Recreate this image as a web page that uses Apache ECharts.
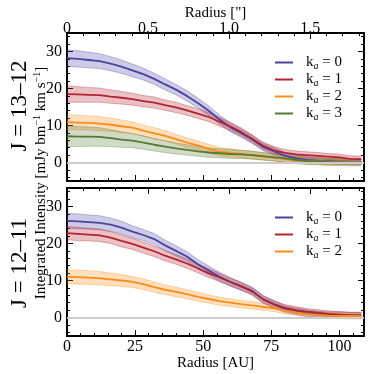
<!DOCTYPE html>
<html>
<head>
<meta charset="utf-8">
<script src="https://cdn.jsdelivr.net/npm/echarts@6/dist/echarts.min.js"></script>
<style>
html,body{margin:0;padding:0;background:#fff;}
#chart{width:374px;height:374px;}
</style>
</head>
<body>
<div id="chart"></div>
<script>

// radial profiles, values

const radius = [0,4,8,12,16,20,24,28,32,36,40,44,48,52,56,60,64,68,72,76,80,84,88,92,96,100,104,108];

// J = 13-12
const j13k0 = [28.2,28.0,27.7,27.4,26.7,25.9,24.9,23.9,22.6,21.1,19.7,18.0,16.1,14.0,11.6,9.5,7.9,6.2,4.2,3.0,1.8,1.1,0.7,0.5,0.4,0.3,0.2,0.2];
const j13k1 = [18.5,18.4,18.3,18.2,17.8,17.5,17.1,16.6,16.2,15.5,14.9,14.1,13.2,12.3,11.0,9.7,8.2,6.4,4.5,3.3,2.6,2.2,2.0,1.8,1.6,1.4,1.0,0.9];
const j13k2 = [10.9,10.8,10.7,10.5,10.2,9.8,9.4,8.6,7.9,7.2,6.3,5.4,4.6,3.7,2.9,2.6,2.3,2.0,1.6,1.3,0.9,0.6,0.4,0.3,0.2,0.2,0.1,0.1];
const j13k3 = [7.1,7.0,7.0,6.9,6.6,6.2,5.9,5.4,4.8,4.3,3.8,3.4,3.0,2.7,2.5,2.3,2.2,2.0,1.7,1.4,1.1,0.7,0.4,0.3,0.1,0.1,0.0,0.0];

const j13e0 = [2.2,2.2,2.1,2.0,1.9,1.8,1.7,1.6,1.5,1.5,1.4,1.4,1.3,1.3,1.2,1.2,1.1,1.1,1.0,1.0,0.9,0.9,0.9,0.8,0.8,0.8,0.8,0.8];
const j13e1 = [2.2,2.1,2.0,1.9,1.8,1.7,1.6,1.5,1.5,1.4,1.4,1.3,1.3,1.2,1.2,1.1,1.1,1.0,1.0,1.0,0.9,0.9,0.9,0.9,0.8,0.8,0.8,0.8];
const j13e2 = [2.0,2.0,1.9,1.9,1.8,1.7,1.6,1.5,1.5,1.4,1.3,1.3,1.2,1.2,1.1,1.1,1.0,1.0,1.0,0.9,0.9,0.9,0.9,0.8,0.8,0.8,0.8,0.8];
const j13e3 = [2.7,2.7,2.6,2.5,2.3,2.1,1.9,1.8,1.7,1.6,1.5,1.4,1.3,1.3,1.2,1.2,1.1,1.1,1.0,1.0,1.0,0.9,0.9,0.9,0.9,0.9,0.9,0.9];

// J = 12-11
const j12k0 = [26.1,26.0,25.8,25.6,25.1,24.3,23.2,22.3,21.2,19.5,18.0,16.5,14.4,12.7,11.0,9.6,8.4,7.2,4.9,3.5,2.3,1.7,1.2,0.9,0.7,0.7,0.6,0.6];
const j12k1 = [22.8,22.6,22.4,22.2,21.6,20.7,19.9,18.9,17.9,16.7,15.7,14.6,13.3,12.0,10.8,9.6,8.4,7.0,4.9,3.6,2.6,2.0,1.6,1.3,1.0,0.8,0.6,0.6];
const j12k2 = [11.0,10.9,10.8,10.6,10.3,10.0,9.6,9.0,8.2,7.5,6.9,6.3,5.6,5.0,4.4,4.0,3.6,3.3,2.9,2.5,1.9,1.4,1.0,0.7,0.5,0.45,0.4,0.4];

const j12e0 = [2.0,2.0,1.9,1.9,1.8,1.7,1.6,1.5,1.5,1.4,1.4,1.3,1.3,1.2,1.2,1.1,1.1,1.0,1.0,1.0,0.9,0.9,0.9,0.8,0.8,0.8,0.8,0.8];
const j12e1 = [1.8,1.8,1.7,1.7,1.6,1.6,1.5,1.5,1.4,1.4,1.3,1.3,1.2,1.2,1.1,1.1,1.0,1.0,1.0,0.9,0.9,0.9,0.8,0.8,0.8,0.8,0.8,0.8];
const j12e2 = [1.9,1.9,1.8,1.8,1.7,1.6,1.5,1.4,1.4,1.3,1.3,1.2,1.2,1.1,1.1,1.0,1.0,1.0,0.9,0.9,0.9,0.8,0.8,0.8,0.8,0.8,0.8,0.8];

const seriesNames = ["k_a = 0","k_a = 1","k_a = 2","k_a = 3"];

// tick positions
const auMajor = [0,25,50,75,100];
const auMinor = [5,10,15,20,30,35,40,45,55,60,65,70,80,85,90,95,105];
const arcMajor = [0,0.5,1.0,1.5];
const arcMinor = [0.1,0.2,0.3,0.4,0.6,0.7,0.8,0.9,1.1,1.2,1.3,1.4,1.6,1.7,1.8];
const yMajor = [0,10,20,30];
const yMinor = [-4,-2,2,4,6,8,12,14,16,18,22,24,26,28,32,34];

const AU_MAX = 109;
const AU_PER_ARCSEC = 59.5;

const colors = ["#4b43a0","#b5232f","#ff8c14","#557a33"];
const FONT = "Liberation Serif";


const chart = echarts.init(document.getElementById("chart"));


// one axis (major or minor tick layer)
function axis(g, pos, max, ticks, len, opt){

  opt = opt || {};

  return {
    gridIndex:g,
    type:"value",
    position:pos,
    min:pos==="top" || pos==="bottom" ? 0 : -5,
    max:max,
    splitLine:{show:false},
    axisLine:{
      show:!!opt.line,
      onZero:false,
      lineStyle:{color:"#000",width:2}
    },
    axisTick:{
      show:true,
      inside:true,
      length:len,
      customValues:ticks,
      lineStyle:{color:"#000",width:1}
    },
    axisLabel:{
      show:!!opt.labels,
      customValues:ticks,
      margin:opt.margin,
      color:"#000",
      fontFamily:FONT,
      fontSize:16,
      formatter:opt.fmt
    },
    name:opt.name || "",
    nameLocation:"middle",
    nameGap:opt.nameGap || 15,
    nameTextStyle:{color:"#000",fontFamily:FONT,fontSize:15}
  };

}


const xAxes = [];
const yAxes = [];

[0,1].forEach(g=>{

  const arcMax = AU_MAX / AU_PER_ARCSEC;

  xAxes.push(axis(g,"bottom",AU_MAX,auMajor,6,{
    line:true,
    labels:g===1,
    name:g===1 ? "Radius [AU]" : "",
    nameGap:17,
    margin:3
  }));
  xAxes.push(axis(g,"bottom",AU_MAX,auMinor,3));

  xAxes.push(axis(g,"top",arcMax,arcMajor,6,{
    line:true,
    labels:g===0,
    name:g===0 ? "Radius [\"]" : "",
    nameGap:11,
    margin:-4,
    fmt:v=>v===0 ? "0" : v.toFixed(1)
  }));
  xAxes.push(axis(g,"top",arcMax,arcMinor,3));

  yAxes.push(axis(g,"left",35,yMajor,6,{line:true,labels:true,margin:5}));
  yAxes.push(axis(g,"left",35,yMinor,3));
  yAxes.push(axis(g,"right",35,yMajor,6,{line:true}));
  yAxes.push(axis(g,"right",35,yMinor,3));

});


// shaded error band, drawn as one polygon through the axis scales
function band(g, mid, err, color, withZero){

  const lo = mid.map((v,i)=>v - err[i]);
  const hi = mid.map((v,i)=>v + err[i]);

  const s = {
    type:"custom",
    name:"band",
    xAxisIndex:g*4,
    yAxisIndex:g*4,
    z:1,
    silent:true,
    data:radius.map((r,i)=>[r,lo[i],hi[i]]),
    encode:{x:0,y:[1,2]},
    renderItem:function(params, api){

      if(params.dataIndex !== 0) return;

      const up = radius.map((r,i)=>api.coord([r,hi[i]]));
      const dn = radius.map((r,i)=>api.coord([r,lo[i]]));

      return {
        type:"group",
        children:[
          {
            type:"polygon",
            shape:{points:up.concat(dn.slice().reverse())},
            style:{fill:echarts.color.modifyAlpha(color,0.28)}
          },
          {
            type:"polyline",
            shape:{points:up},
            style:{stroke:echarts.color.modifyAlpha(color,0.35),fill:null,lineWidth:1}
          },
          {
            type:"polyline",
            shape:{points:dn},
            style:{stroke:echarts.color.modifyAlpha(color,0.35),fill:null,lineWidth:1}
          }
        ]
      };

    }
  };

  if(withZero){
    s.markLine = {
      silent:true,
      symbol:"none",
      label:{show:false},
      lineStyle:{color:"#cccccc",width:2,type:"solid"},
      data:[{yAxis:0}]
    };
  }

  return s;

}


function line(g, name, mid, color){

  return {
    type:"line",
    name:name,
    xAxisIndex:g*4,
    yAxisIndex:g*4,
    z:3,
    silent:true,
    showSymbol:false,
    symbol:"none",
    data:radius.map((r,i)=>[r,mid[i]]),
    lineStyle:{color:color,width:1.8},
    itemStyle:{color:color}
  };

}


const series = [
  band(0,j13k0,j13e0,colors[0],true),
  band(0,j13k1,j13e1,colors[1]),
  band(0,j13k2,j13e2,colors[2]),
  band(0,j13k3,j13e3,colors[3]),
  line(0,seriesNames[0],j13k0,colors[0]),
  line(0,seriesNames[1],j13k1,colors[1]),
  line(0,seriesNames[2],j13k2,colors[2]),
  line(0,seriesNames[3],j13k3,colors[3]),

  band(1,j12k0,j12e0,colors[0],true),
  band(1,j12k1,j12e1,colors[1]),
  band(1,j12k2,j12e2,colors[2]),
  line(1,seriesNames[0],j12k0,colors[0]),
  line(1,seriesNames[1],j12k1,colors[1]),
  line(1,seriesNames[2],j12k2,colors[2])
];


// legend text: k with italic subscript a
const legendText = {
  color:"#000",
  fontFamily:FONT,
  fontSize:15,
  rich:{
    k:{fontFamily:FONT,fontSize:15,lineHeight:17,padding:[0,0,0,8],color:"#000"},
    s:{fontFamily:FONT,fontSize:10,lineHeight:10,fontStyle:"italic",verticalAlign:"bottom",color:"#000"},
    t:{fontFamily:FONT,fontSize:15,lineHeight:17,color:"#000"}
  }
};

function legend(top, names){

  return {
    left:275,
    top:top,
    orient:"vertical",
    padding:0,
    itemGap:1,
    itemWidth:18,
    itemHeight:2,
    icon:"rect",
    selectedMode:false,
    data:names,
    textStyle:legendText,
    formatter:n=>"{k|k}{s|a}{t|" + n.slice(3) + "}"
  };

}


chart.setOption({

  animation:false,

  grid:[
    {left:67,top:33,width:297,height:148},
    {left:67,top:188,width:297,height:148}
  ],

  xAxis:xAxes,
  yAxis:yAxes,

  legend:[
    legend(55,seriesNames),
    legend(210,seriesNames.slice(0,3))
  ],

  graphic:[
    {
      type:"text",
      x:20,
      y:106,
      rotation:Math.PI/2,
      style:{
        text:"J = 13–12",
        fill:"#000",
        font:"23px '" + FONT + "'",
        align:"center",
        verticalAlign:"middle"
      }
    },
    {
      type:"text",
      x:20,
      y:263,
      rotation:Math.PI/2,
      style:{
        text:"J = 12–11",
        fill:"#000",
        font:"23px '" + FONT + "'",
        align:"center",
        verticalAlign:"middle"
      }
    },
    {
      type:"text",
      x:41,
      y:183,
      rotation:Math.PI/2,
      style:{
        text:"{m|Integrated Intensity [mJy bm}{u|−1}{m| km s}{u|−1}{m|]}",
        fill:"#000",
        align:"center",
        verticalAlign:"middle",
        rich:{
          m:{fontFamily:FONT,fontSize:15,lineHeight:17,fill:"#000"},
          u:{fontFamily:FONT,fontSize:10,lineHeight:10,verticalAlign:"top",fill:"#000"}
        }
      }
    }
  ],

  series:series

});

</script>
</body>
</html>
